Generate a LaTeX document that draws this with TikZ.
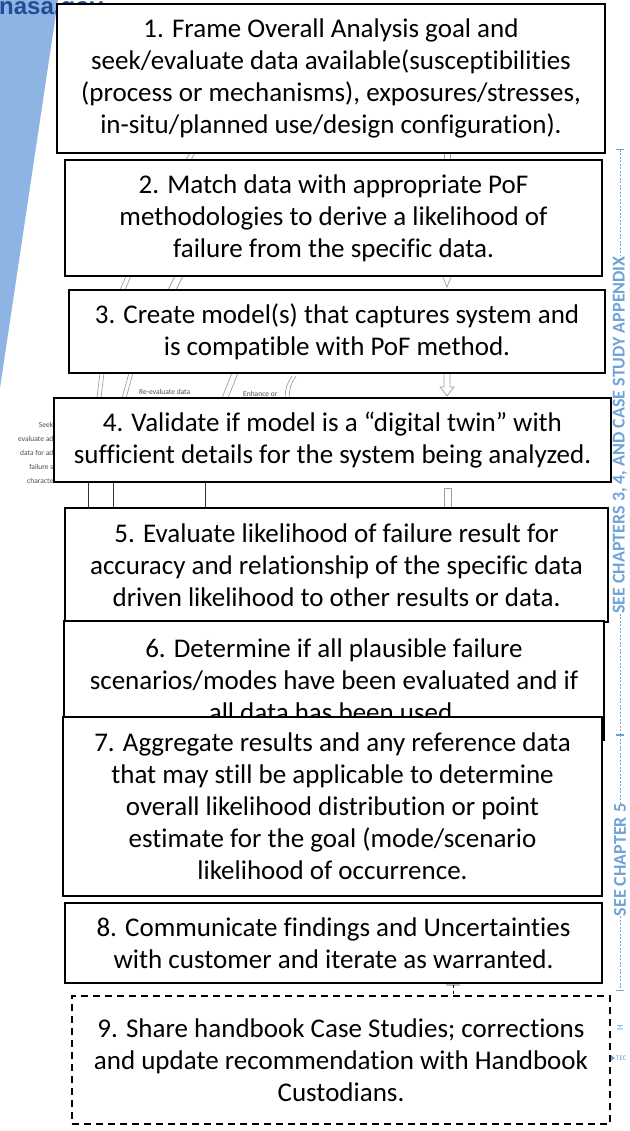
\documentclass[tikz,border=0pt]{standalone}
\usepackage{fontspec}
\setmainfont[Ligatures=CommonOff]{Carlito}
\newfontfamily\sitefont{Liberation Sans}
\definecolor{wedgeblue}{HTML}{8EB4E3}
\definecolor{siteblue}{HTML}{1F4E96}
\definecolor{sideblue}{HTML}{6FA3D8}
\begin{document}
\begin{tikzpicture}
			[x=1pt,y=-1pt,
			stepbox/.style={draw,line width=1.6pt,fill=white,align=center,inner sep=0pt,
				font=\fontsize{27}{32}\selectfont},
			ghost/.style={draw=gray!75,line width=0.7pt},
			ghosttext/.style={text=gray!60!black,inner sep=0pt,
				font=\fontsize{7.5}{14}\selectfont},
			sidetext/.style={text=sideblue,inner sep=0pt,rotate=90,
				font=\bfseries\fontsize{18}{18}\selectfont},
			sideline/.style={draw=sideblue,line width=0.8pt,dash pattern=on 2pt off 1.5pt}]
			\useasboundingbox (0,0) rectangle (629,1131);
			\begin{scope}
				\clip (0,0) rectangle (629,1131);
				\fill[wedgeblue] (0,0) -- (58,0) -- (0,388) -- cycle;
				\node[anchor=base west,inner sep=0pt,text=siteblue,
					font=\sitefont\bfseries\fontsize{24}{24}\selectfont] (site) at (-1,15) {nasa.gov};
			\end{scope}
			\node[sidetext] (refa) at (620,435) {SEE CHAPTERS 3, 4, AND CASE STUDY APPENDIX};
			\node[sidetext] (refb) at (620,860) {SEE CHAPTER 5};
			\coordinate (refatop) at (620,150);
			\coordinate (refmid) at (620,735);
			\coordinate (refbbot) at (620,990);
			\draw[sideline] (refatop) -- (refa.east);
			\draw[sideline] (refa.west) -- (refmid);
			\draw[sideline] (refmid) -- (refb.east);
			\draw[sideline] (refb.west) -- (refbbot);
			\draw[sideblue,line width=1pt] ([xshift=-4pt]refatop) -- ([xshift=4pt]refatop);
			\draw[sideblue,line width=1.6pt] ([xshift=-4pt]refmid) -- ([xshift=4pt]refmid);
			\draw[sideblue,line width=1pt] ([xshift=-4pt]refbbot) -- ([xshift=4pt]refbbot);
			\node[text=sideblue,inner sep=0pt,rotate=90,font=\fontsize{9}{9}\selectfont] (refc) at (620,1028) {H};
			\node[text=sideblue,inner sep=0pt,anchor=west,font=\fontsize{7}{7}\selectfont] (refd) at (616,1058) {TEC};
			\fill[sideblue] (611,1055) -- (615,1058) -- (611,1061) -- cycle;
			\draw[ghost] (186,160) -- (190,153) (191,160) -- (195,153);
			\draw[ghost] (444,153) -- (444,160) (450,153) -- (450,160);
			\draw[ghost] (120,290) -- (126,276) (125,290) -- (131,276);
			\draw[ghost] (168,290) -- (175,276) (176,290) -- (183,276);
			\draw[ghost] (443,277) -- (447,287) -- (451,277);
			\draw[ghost] (97,398) -- (100,373) (101,398) -- (104,373);
			\draw[ghost] (122,398) -- (129,373) (126,398) -- (133,373);
			\draw[ghost] (222,398) -- (232,373) (228,398) -- (238,373);
			\draw[ghost] (285,398) .. controls (286,386) .. (292,376) (289,398) .. controls (290,386) .. (296,376);
			\draw[ghost] (444,373) -- (444,387) -- (440,387) -- (447,396) -- (454,387) -- (450,387) -- (450,373);
			\node[ghosttext,anchor=west] (reeval) at (139,392) {Re-evaluate data};
			\node[ghosttext,anchor=west] (enhance) at (243,394) {Enhance or};
			\node[ghosttext,align=right,anchor=east] (seek) at (53.5,453)
				{Seek\\evaluate ad\\data for ad\\failure s\\characte};
			\draw[ghost,draw=black!80] (88,482) -- (88,508) (113,482) -- (113,508) (205,482) -- (205,508);
			\draw[ghost] (444,508) -- (444,488) -- (451,488) -- (451,508);
			\draw[ghost,line width=1.6pt,draw=gray!50] (446,985) -- (460,985);
			\draw[ghost,draw=black,dashed] (453,985) -- (453,995);
			\node[stepbox,minimum width=548pt,minimum height=149pt] (frame) at (331,78.5)
				{1. Frame Overall Analysis goal and\\seek/evaluate data available(susceptibilities\\(process or mechanisms), exposures/stresses,\\in-situ/planned use/design configuration).};
			\node[stepbox,minimum width=537pt,minimum height=116pt] (match) at (333.5,218)
				{2. Match data with appropriate PoF\\methodologies to derive a likelihood of\\failure from the specific data.};
			\node[stepbox,minimum width=536pt,minimum height=83pt] (model) at (337,331.5)
				{3. Create model(s) that captures system and\\is compatible with PoF method.};
			\node[stepbox,minimum width=557pt,minimum height=84pt] (valid) at (332.5,440)
				{4. Validate if model is a “digital twin” with\\sufficient details for the system being analyzed.};
			\node[stepbox,minimum width=543pt,minimum height=114pt] (evalr) at (336.5,565)
				{5. Evaluate likelihood of failure result for\\accuracy and relationship of the specific data\\driven likelihood to other results or data.};
			\node[stepbox,minimum width=540pt,minimum height=119pt] (scen) at (334,680.5)
				{6. Determine if all plausible failure\\scenarios/modes have been evaluated and if\\all data has been used.};
			\node[stepbox,minimum width=539pt,minimum height=179pt] (aggr) at (332.5,806.5)
				{7. Aggregate results and any reference data\\that may still be applicable to determine\\overall likelihood distribution or point\\estimate for the goal (mode/scenario\\likelihood of occurrence.};
			\node[stepbox,minimum width=537pt,minimum height=80pt] (comm) at (333.5,943)
				{8. Communicate findings and Uncertainties\\with customer and iterate as warranted.};
			\node[stepbox,line width=1.2pt,dash pattern=on 7pt off 5pt,minimum width=538pt,minimum height=128pt] (share) at (341,1060)
				{9. Share handbook Case Studies; corrections\\and update recommendation with Handbook\\Custodians.};
		\end{tikzpicture}
\end{document}
